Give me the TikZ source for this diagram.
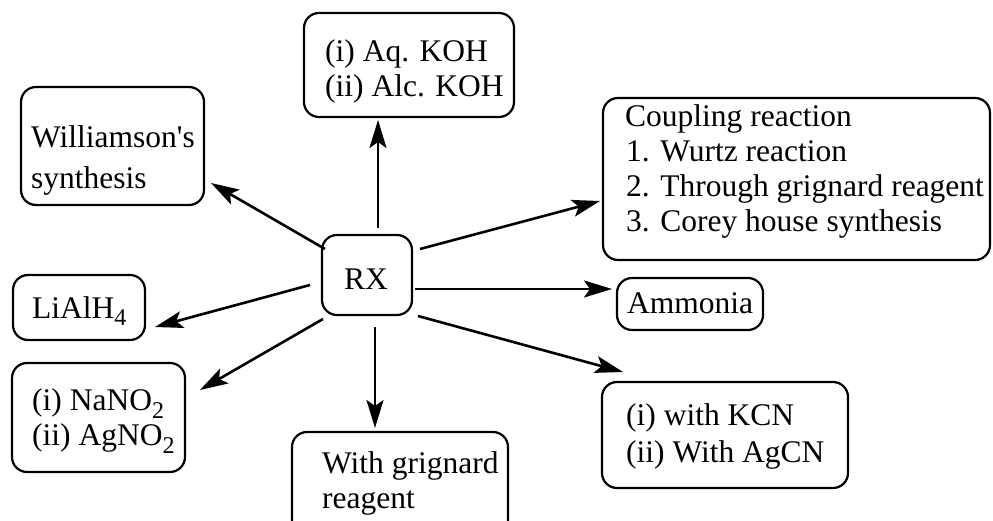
\documentclass[tikz,border=0pt]{standalone}
\usepackage{fontspec}
\setmainfont{Liberation Serif}
\usetikzlibrary{arrows.meta}
\newcommand{\sbs}[1]{\raisebox{-8pt}[0pt][0pt]{\fontsize{24}{24}\selectfont #1}}
\begin{document}
\begin{tikzpicture}[x=1pt,y=-1pt,
  box/.style={draw,line width=2.2pt,rounded corners=15pt,inner sep=0pt},
  txt/.style={anchor=base west,inner sep=0pt,font=\fontsize{31.5}{35}\selectfont},
  arr/.style={line width=2.6pt,-{Stealth[length=28pt,width=17pt,inset=6pt]}}]
\useasboundingbox (0,0) rectangle (993,521);
\clip (0,0) rectangle (993,521);

% boxes
\node[box,minimum width=90pt,minimum height=80pt] (rx) at (367,275) {};
\node[box,minimum width=210pt,minimum height=104pt] (koh) at (409,65) {};
\node[box,minimum width=183pt,minimum height=118pt] (will) at (112.5,146) {};
\node[box,minimum width=387pt,minimum height=162pt] (coup) at (796.5,179) {};
\node[box,minimum width=146pt,minimum height=52pt] (amm) at (690,304) {};
\node[box,minimum width=246pt,minimum height=106pt] (kcn) at (725,435) {};
\node[box,minimum width=132pt,minimum height=65pt] (li) at (79,307.5) {};
\node[box,minimum width=173pt,minimum height=109pt] (na) at (98.5,417.5) {};
\node[box,minimum width=216pt,minimum height=116pt] (grig) at (400,490) {};

% texts
\node[txt,anchor=base] (rxt) at (366,290) {RX};
\node[txt] (koh1) at (325,62) {(i) Aq. KOH};
\node[txt] (koh2) at (325,97) {(ii) Alc. KOH};
\node[txt] (will1) at (31,148) {Williamson\textquotesingle s};
\node[txt] (will2) at (31,189) {synthesis};
\node[txt] (coup1) at (625,127) {Coupling reaction};
\node[txt] (coup2) at (626,162) {1. Wurtz reaction};
\node[txt] (coup3) at (626,197) {2. Through grignard reagent};
\node[txt] (coup4) at (626,232) {3. Corey house synthesis};
\node[txt] (ammt) at (627,313) {Ammonia};
\node[txt] (kcn1) at (626,425) {(i) with KCN};
\node[txt] (kcn2) at (626,462) {(ii) With AgCN};
\node[txt] (lit) at (32,318) {LiAlH\sbs{4}};
\node[txt] (na1) at (32,410) {(i) NaNO\sbs{2}};
\node[txt] (na2) at (32,445) {(ii) AgNO\sbs{2}};
\node[txt] (grig1) at (322,473) {With grignard};
\node[txt] (grig2) at (322,508) {reagent};

% connectors
\draw[arr] ([shift={(11,-47)}]rx.center) -- ([shift={(-31,55)}]koh.center);
\draw[arr] ([shift={(-42,-26)}]rx.center) -- ([shift={(98.5,37)}]will.center);
\draw[arr] ([shift={(53,-26)}]rx.center) -- ([shift={(-196.5,22)}]coup.center);
\draw[arr] ([shift={(48,14)}]rx.center) -- ([shift={(-78,-15)}]amm.center);
\draw[arr] ([shift={(51,41)}]rx.center) -- ([shift={(-102,-63)}]kcn.center);
\draw[arr] ([shift={(8,52)}]rx.center) -- ([shift={(-25,-62)}]grig.center);
\draw[arr] ([shift={(-57,10)}]rx.center) -- ([shift={(76,19.5)}]li.center);
\draw[arr] ([shift={(-44,44)}]rx.center) -- ([shift={(101.5,-27.5)}]na.center);
\end{tikzpicture}
\end{document}
